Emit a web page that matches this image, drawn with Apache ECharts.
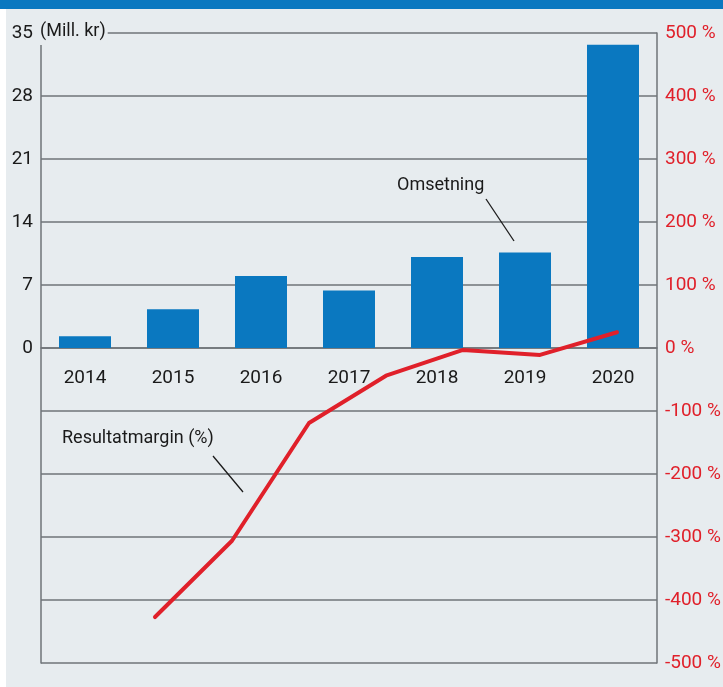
<!DOCTYPE html>
<html>
<head>
<meta charset="utf-8">
<script src="https://cdn.jsdelivr.net/npm/echarts@6/dist/echarts.min.js"></script>
<style>
html,body{margin:0;padding:0;background:#ffffff;}
#chart{width:723px;height:687px;}
</style>
</head>
<body>
<div id="chart"></div>
<script>
var years = ['2014','2015','2016','2017','2018','2019','2020'];
var omsetning = [1.3, 4.3, 8.0, 6.4, 10.1, 10.6, 33.7];
var resultatmargin = [-427, -306, -119, -44, -3, -11, 25];
var leftTicks = [0, 7, 14, 21, 28, 35];
var rightTicks = [-500, -400, -300, -200, -100, 0, 100, 200, 300, 400, 500];

var FONT = 'Roboto, "Liberation Sans", sans-serif';
var chart = echarts.init(document.getElementById('chart'));
var gridColor = '#6f7478';

chart.setOption({
  animation: false,
  backgroundColor: '#ffffff',
  textStyle: {fontFamily: FONT},
  graphic: [
    {type: 'rect', shape: {x: 6, y: 0, width: 717, height: 687}, style: {fill: '#e7ecef'}, z: -10},
    {type: 'rect', shape: {x: 0, y: 0, width: 723, height: 9}, style: {fill: '#0a78c0'}, z: -9},
    {type: 'text', left: 38, top: 22, z: 100,
      style: {text: '(Mill. kr)', fontFamily: FONT, fontSize: 18, fill: '#1a1a1a', backgroundColor: '#e7ecef', padding: [0, 2, 5, 2]}},
    {type: 'text', left: 397, top: 176, z: 100,
      style: {text: 'Omsetning', fontFamily: FONT, fontSize: 18, fill: '#1a1a1a'}},
    {type: 'line', shape: {x1: 486, y1: 199, x2: 514, y2: 241}, style: {stroke: '#1a1a1a', lineWidth: 1.3}, z: 100},
    {type: 'text', left: 62, top: 429, z: 100,
      style: {text: 'Resultatmargin (%)', fontFamily: FONT, fontSize: 18, fill: '#1a1a1a'}},
    {type: 'line', shape: {x1: 213, y1: 456, x2: 243, y2: 492}, style: {stroke: '#1a1a1a', lineWidth: 1.3}, z: 100}
  ],
  grid: [
    {left: 41, right: 66, top: 33, bottom: 24, containLabel: false, outerBoundsMode: 'none'},
    {left: 116.5, right: 67.5, top: 33, bottom: 24, containLabel: false, outerBoundsMode: 'none'}
  ],
  xAxis: [
    {type: 'category', gridIndex: 0, data: years, position: 'bottom', offset: -315,
      axisLine: {show: true, onZero: false, lineStyle: {color: gridColor, width: 1.5}},
      axisTick: {show: false},
      axisLabel: {color: '#1a1a1a', fontSize: 19, fontFamily: FONT, margin: 21}},
    {type: 'category', gridIndex: 1, data: years, show: false}
  ],
  yAxis: [
    {type: 'value', gridIndex: 0, min: -35, max: 35, interval: 7,
      axisLine: {show: true, lineStyle: {color: gridColor, width: 1.5}},
      axisTick: {show: false},
      splitLine: {show: true, lineStyle: {color: gridColor, width: 1.5}},
      axisLabel: {color: '#1a1a1a', fontSize: 19, fontFamily: FONT, margin: 8,
        formatter: function (v) { return leftTicks.indexOf(v) >= 0 ? String(v) : ''; }}},
    {type: 'value', gridIndex: 0, min: -500, max: 500, interval: 100, position: 'right',
      axisLine: {show: true, lineStyle: {color: gridColor, width: 1.5}},
      axisTick: {show: false},
      splitLine: {show: false},
      axisLabel: {color: '#e0202a', fontSize: 19, fontFamily: FONT, margin: 8,
        formatter: function (v) { return rightTicks.indexOf(v) >= 0 ? (v + ' %') : ''; }}},
    {type: 'value', gridIndex: 1, min: -500, max: 500, interval: 100, show: false}
  ],
  series: [
    {type: 'bar', name: 'Omsetning', xAxisIndex: 0, yAxisIndex: 0, data: omsetning,
      barWidth: 52, itemStyle: {color: '#0a78c0'}, z: 3},
    {type: 'line', name: 'Resultatmargin (%)', xAxisIndex: 1, yAxisIndex: 2, data: resultatmargin,
      symbol: 'none', lineStyle: {color: '#e0202a', width: 4, cap: 'round', join: 'round'}, z: 5}
  ]
});
</script>
</body>
</html>
